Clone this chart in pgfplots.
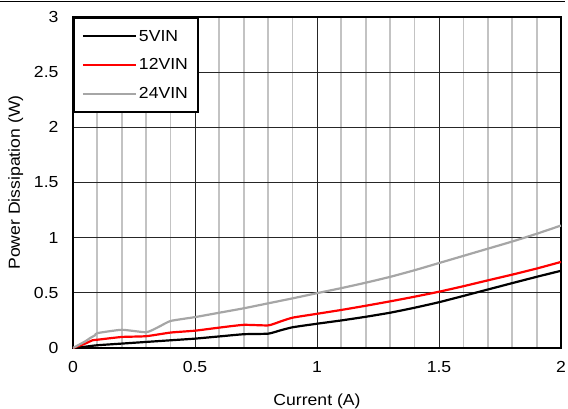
\documentclass[border=0pt]{standalone}
\usepackage{fontspec}
\setmainfont{Liberation Sans}[FakeStretch=1.1]
\usepackage{pgfplots}
\pgfplotsset{compat=1.18}
\definecolor{gr}{RGB}{166,166,166}
\definecolor{mg}{RGB}{195,195,195}
\definecolor{rd}{RGB}{255,0,0}
\begin{document}
\begin{tikzpicture}
\begin{axis}[
  scale only axis, width=488pt, height=331pt,
  xmin=0, xmax=2, ymin=0, ymax=3,
  xtick={0,0.5,1,1.5,2}, ytick={0,0.5,1,1.5,2,2.5,3},
  minor x tick num=4,
  xmajorgrids, ymajorgrids, xminorgrids,
  major grid style={black!85, line width=0.9pt},
  minor grid style={mg, line width=1.8pt},
  axis line style={line width=2pt},
  major tick length=0pt, minor tick length=0pt,
  tick label style={font=\fontsize{16}{19}\selectfont},
  /pgf/number format/assume math mode=true,
  xticklabel style={yshift=-10pt},
  yticklabel style={xshift=-11pt},
  xlabel={Current (A)}, ylabel={Power Dissipation (W)},
  label style={font=\fontsize{16}{19}\selectfont},
  xlabel style={yshift=-14pt},
  ylabel style={yshift=4pt},
  legend cell align=left,
  legend style={at={(rel axis cs:0,1)}, anchor=north west, draw=black, line width=2pt,
    font=\fontsize{16}{19}\selectfont, inner xsep=8pt, inner ysep=10pt,
    row sep=12pt, /tikz/every even column/.append style={column sep=2pt}},
  legend image code/.code={\draw[#1, line width=2pt] (0pt,0pt) -- (53pt,0pt);},
  every axis plot/.append style={line width=2.2pt, smooth, tension=0.3},
]
\coordinate (O) at (rel axis cs:0,0);
\addplot[black] coordinates {
(0,0) (0.05,0.012) (0.1,0.025) (0.2,0.04) (0.3,0.055) (0.4,0.07) (0.5,0.085)
(0.6,0.105) (0.7,0.125) (0.8,0.13) (0.85,0.16) (0.9,0.188) (1.0,0.22) (1.1,0.25)
(1.2,0.283) (1.3,0.32) (1.4,0.365) (1.5,0.415) (1.6,0.472) (1.7,0.53) (1.8,0.588)
(1.9,0.645) (2.0,0.70)};
\addlegendentry{5VIN}
\addplot[rd] coordinates {
(0,0) (0.05,0.04) (0.08,0.07) (0.1,0.075) (0.2,0.10) (0.3,0.107) (0.4,0.14)
(0.5,0.157) (0.6,0.185) (0.7,0.21) (0.8,0.205) (0.85,0.24) (0.9,0.275) (1.0,0.31)
(1.1,0.345) (1.2,0.383) (1.3,0.423) (1.4,0.465) (1.5,0.51) (1.6,0.56) (1.7,0.613)
(1.8,0.665) (1.9,0.72) (2.0,0.78)};
\addlegendentry{12VIN}
\addplot[gr] coordinates {
(0,0) (0.05,0.06) (0.07,0.09) (0.09,0.115) (0.1,0.135) (0.2,0.165) (0.3,0.143)
(0.35,0.19) (0.4,0.245) (0.5,0.28) (0.6,0.32) (0.7,0.36) (0.8,0.405) (0.9,0.45)
(1.0,0.497) (1.1,0.543) (1.2,0.592) (1.3,0.645) (1.4,0.705) (1.5,0.77) (1.6,0.835)
(1.7,0.90) (1.8,0.965) (1.9,1.035) (2.0,1.11)};
\addlegendentry{24VIN}
\end{axis}
\draw[line width=1.5pt] ([xshift=-73pt,yshift=346.5pt]O) -- ([xshift=492pt,yshift=346.5pt]O);
\pgfresetboundingbox
\path ([xshift=-73pt,yshift=-60pt]O) rectangle ([xshift=495pt,yshift=348pt]O);
\end{tikzpicture}
\end{document}
